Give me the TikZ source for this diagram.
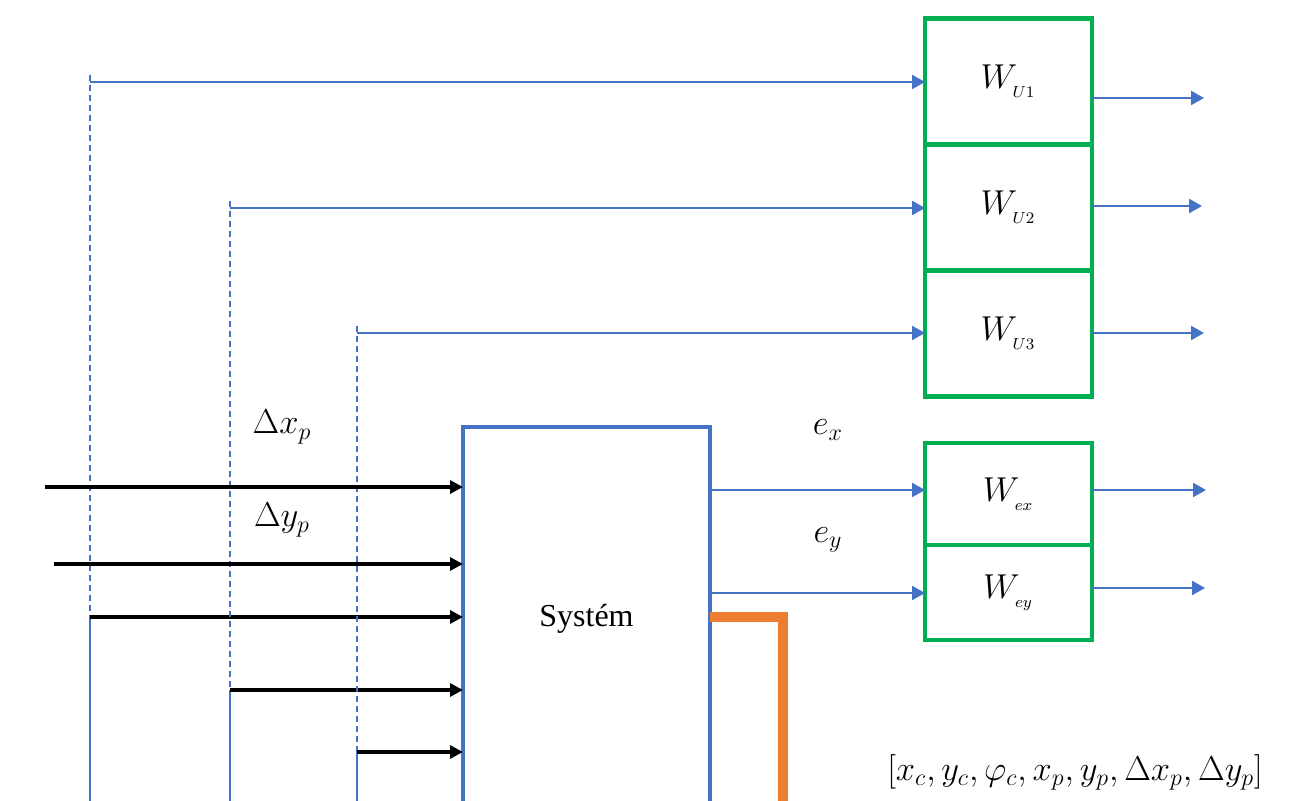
\documentclass[tikz,border=0pt]{standalone}
\usepackage{fontspec}
\setmainfont{Liberation Serif}
\usetikzlibrary{arrows.meta,positioning}
\definecolor{wblue}{HTML}{4472C4}
\definecolor{wgreen}{HTML}{00B050}
\definecolor{worange}{HTML}{ED7D31}
\tikzset{
    block/.style = {draw=wgreen, line width=2.2pt, minimum width=83.5pt, inner sep=0pt, outer sep=0pt, font=\fontsize{17}{20}\selectfont},
    blarrow/.style = {wblue, line width=1.2pt, -{Triangle[length=6.5pt,width=7pt]}},
    bkarrow/.style = {black, line width=1.6pt, -{Triangle[length=6.5pt,width=6.5pt]}},
    feed/.style = {wblue, line width=0.6pt},
    lbl/.style = {font=\fontsize{18}{21}\selectfont, inner sep=0pt}
}

\begin{document}
\begin{tikzpicture}[x=0.5pt, y=-0.5pt]
    \useasboundingbox (0,0) rectangle (1291,801);
    \clip (0,0) rectangle (1291,801);

    % Weight blocks
    \node[block, minimum height=63pt] (wu1) at (1008.5,81.5) {$W_{_{U1}}$};
    \node[block, minimum height=63pt, below=0pt of wu1] (wu2) {$W_{_{U2}}$};
    \node[block, minimum height=63pt, below=0pt of wu2] (wu3) {$W_{_{U3}}$};
    \node[block, minimum height=51pt] (wex) at (1008.5,494) {$W_{_{ex}}$};
    \node[block, minimum height=47.5pt, below=0pt of wex] (wey) {$W_{_{ey}}$};

    % System block (bottom is cut off)
    \node[draw=wblue, line width=2.2pt, minimum width=123.5pt, minimum height=192pt,
          outer sep=0pt, font=\fontsize{16}{19}\selectfont] (sys) at (586.5,619) {Systém};

    % Feeds from the left
    \foreach \x/\yt/\yb/\n in {90/82/617/1, 230/208/690/2, 357/333/752/3}{
        \coordinate (t\n) at (\x,\yt);
        \coordinate (b\n) at (\x,\yb);
        \draw[feed, dash pattern=on 3pt off 2pt] ([yshift=3.5pt]t\n) -- (b\n);
        \draw[feed] (b\n) -- (\x,810);
        \draw[blarrow] (t\n) -- (t\n -| wu\n.west);
        \draw[bkarrow] (b\n) -- (b\n -| sys.west);
    }

    % Inputs
    \coordinate (in1) at (45,487);
    \coordinate (in2) at (54,564);
    \draw[bkarrow] (in1) -- (in1 -| sys.west);
    \draw[bkarrow] (in2) -- (in2 -| sys.west);
    \node[lbl] (dxp) at (282,427) {$\Delta x_p$};
    \node[lbl] (dyp) at (282,520) {$\Delta y_p$};

    % Errors
    \coordinate (ox) at (710,490);
    \coordinate (oy) at (710,593);
    \draw[blarrow] (ox) -- (ox -| wex.west);
    \draw[blarrow] (oy) -- (oy -| wey.west);
    \node[lbl] (ex) at (828,430) {$e_x$};
    \node[lbl] (ey) at (828,540) {$e_y$};

    % Outputs
    \draw[blarrow] (wu1.east |- 0,98) -- ++(112,0);
    \draw[blarrow] (wu2.east |- 0,206) -- ++(110,0);
    \draw[blarrow] (wu3.east |- 0,333) -- ++(112,0);
    \draw[blarrow] (wex.east |- 0,490) -- ++(114,0);
    \draw[blarrow] (wey.east |- 0,588) -- ++(113,0);

    % State output
    \coordinate (st) at (783,810);
    \draw[worange, line width=5pt] (sys.east |- 0,617) -| (st);
    \node[lbl] (state) at (1075,772) {$[x_c, y_c, \varphi_c, x_p, y_p, \Delta x_p, \Delta y_p]$};
\end{tikzpicture}
\end{document}
